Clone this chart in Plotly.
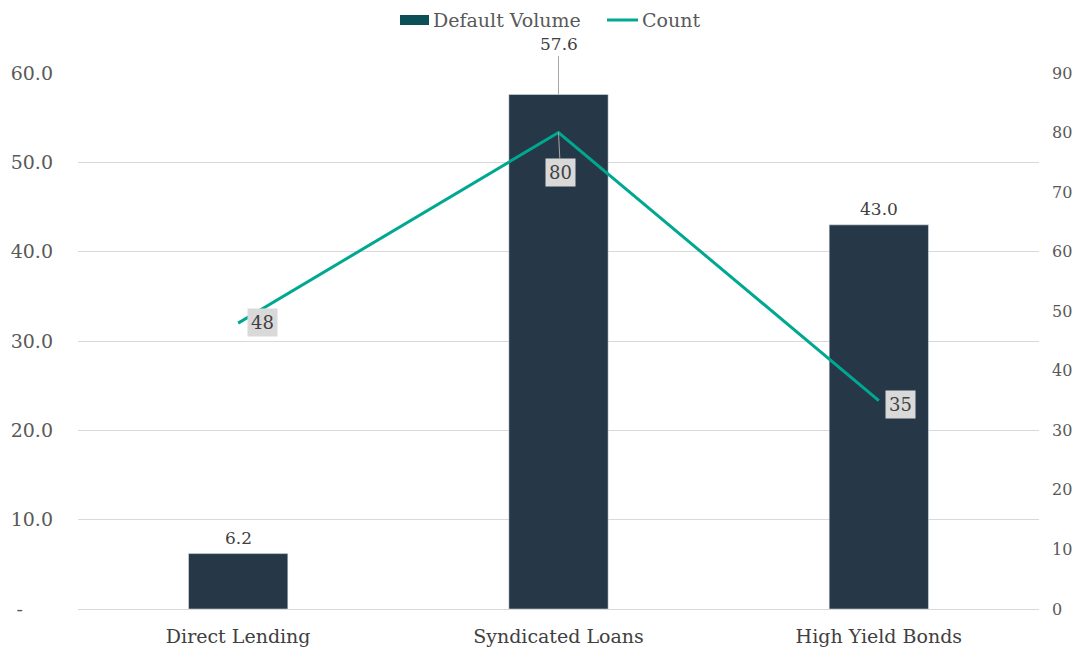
import plotly.graph_objects as go

categories = ["Direct Lending", "Syndicated Loans", "High Yield Bonds"]
default_volume = [6.2, 57.6, 43.0]
count = [48, 80, 35]

left_ticks = [0, 10, 20, 30, 40, 50, 60]
left_ticktext = ["-\u00a0\u00a0\u00a0\u00a0\u00a0", "10.0", "20.0", "30.0", "40.0", "50.0", "60.0"]
right_ticks = [0, 10, 20, 30, 40, 50, 60, 70, 80, 90]

BAR = "#263847"
LINE = "#00A890"
SWATCH = "#0B4F57"
FONT = "DejaVu Serif"
GREY_TXT = "#595959"
DARK_TXT = "#404040"

fig = go.Figure()
fig.add_trace(go.Bar(x=categories, y=default_volume, marker_color=BAR,
                     width=0.31, name="Default Volume", showlegend=False))
fig.add_trace(go.Scatter(x=categories, y=count, yaxis="y2", mode="lines",
                         line=dict(color=LINE, width=3), name="Count",
                         showlegend=False))

annotations = []
# bar value labels
bar_offsets = [(0, 16, False), (0, -50, True), (0, 16, False)]
for cat, v, (dx, dy, arrow) in zip(categories, default_volume, bar_offsets):
    if arrow:
        annotations.append(dict(x=cat, y=v, xref="x", yref="y", text=f"{v:.1f}",
                                showarrow=True, arrowhead=0, arrowwidth=1,
                                arrowcolor="#A6A6A6", ax=0, ay=dy,
                                font=dict(family=FONT, size=17, color=DARK_TXT)))
    else:
        annotations.append(dict(x=cat, y=v, xref="x", yref="y", text=f"{v:.1f}",
                                showarrow=False, yshift=dy,
                                font=dict(family=FONT, size=17, color=DARK_TXT)))

# count labels in grey boxes
count_offsets = [(24, -1, False), (2, 40, True), (22, 4, False)]
for cat, c, (dx, dy, arrow) in zip(categories, count, count_offsets):
    base = dict(x=cat, y=c, xref="x", yref="y2", text=str(c),
                bgcolor="#D9D9D9", borderpad=3,
                font=dict(family=FONT, size=18, color=DARK_TXT))
    if arrow:
        base.update(showarrow=True, arrowhead=0, arrowwidth=1,
                    arrowcolor="#A6A6A6", ax=dx, ay=dy)
    else:
        base.update(showarrow=False, xshift=dx, yshift=-dy)
    annotations.append(base)

# legend entries
annotations.append(dict(x=431, y=20, xref="paper", yref="paper", text="Default Volume",
                        showarrow=False, xanchor="left", yanchor="middle",
                        font=dict(family=FONT, size=19, color=GREY_TXT)))
annotations.append(dict(x=640, y=20, xref="paper", yref="paper", text="Count",
                        showarrow=False, xanchor="left", yanchor="middle",
                        font=dict(family=FONT, size=19, color=GREY_TXT)))

W, H = 1083, 651
L, R, T, B = 78, 44, 73, 42


def px_to_paper_x(px):
    return (px - L) / (W - L - R)


def px_to_paper_y(py):
    return (H - B - py) / (H - T - B)


for a in annotations:
    if a["xref"] == "paper":
        a["x"] = px_to_paper_x(a["x"])
        a["y"] = px_to_paper_y(a["y"])

shapes = [
    dict(type="rect", xref="paper", yref="paper",
         x0=px_to_paper_x(400), x1=px_to_paper_x(429),
         y0=px_to_paper_y(25), y1=px_to_paper_y(15),
         fillcolor=SWATCH, line=dict(width=0)),
    dict(type="line", xref="paper", yref="paper",
         x0=px_to_paper_x(607), x1=px_to_paper_x(638),
         y0=px_to_paper_y(20), y1=px_to_paper_y(20),
         line=dict(color=LINE, width=3)),
]

fig.update_layout(
    width=W, height=H,
    margin=dict(l=L, r=R, t=T, b=B),
    paper_bgcolor="white", plot_bgcolor="white",
    annotations=annotations,
    shapes=shapes,
    font=dict(family=FONT, color=GREY_TXT),
    xaxis=dict(range=[-0.5, 2.5], showgrid=False, showline=False, ticks="",
               automargin=False,
               tickfont=dict(family=FONT, size=19, color=DARK_TXT),
               ticklabelstandoff=14),
    yaxis=dict(range=[0, 60], tickvals=left_ticks, ticktext=left_ticktext,
               automargin=False,
               showgrid=True, gridcolor="#D9D9D9", gridwidth=1,
               zeroline=True, zerolinecolor="#D9D9D9", zerolinewidth=1,
               showline=False, ticks="",
               tickfont=dict(family=FONT, size=19, color=GREY_TXT),
               ticklabelstandoff=24),
    yaxis2=dict(range=[0, 90], tickvals=right_ticks, overlaying="y", side="right",
                automargin=False,
                showgrid=False, zeroline=False, showline=False, ticks="",
                tickfont=dict(family=FONT, size=16, color=GREY_TXT),
                ticklabelstandoff=12),
)

fig.write_html("out.html")
